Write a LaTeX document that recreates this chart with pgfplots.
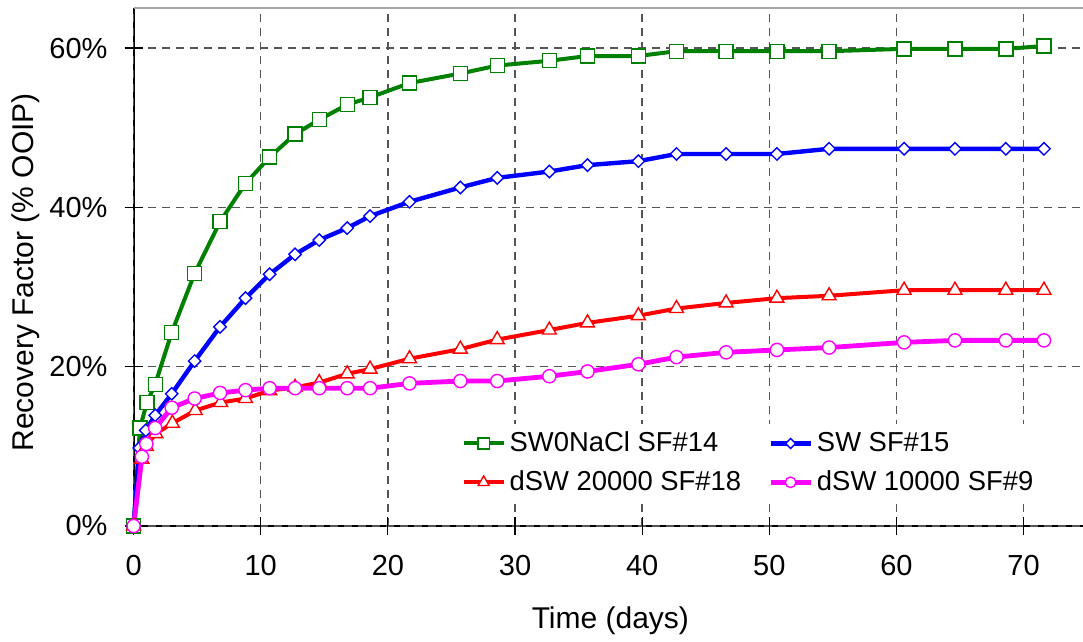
\documentclass[border=0pt]{standalone}
\usepackage{pgfplots}
\pgfplotsset{compat=1.18}
\usepackage{fontspec}
\setmainfont{Liberation Sans}
\definecolor{cgreen}{RGB}{0,128,0}
\definecolor{cblue}{RGB}{0,0,255}
\definecolor{cred}{RGB}{255,0,0}
\definecolor{cmag}{RGB}{255,0,255}
\definecolor{gridc}{RGB}{85,85,85}
\begin{document}
\begin{tikzpicture}
\draw[black, line width=1pt] (0pt,258.9pt) -- (0pt,0pt) -- (476.8pt,0pt);
\draw[gray!70, line width=1pt] (0pt,258.9pt) -- (476.8pt,258.9pt);
\begin{axis}[
  at={(0pt,0pt)}, anchor=south west,
  scale only axis, width=476.8pt, height=258.9pt,
  xmin=0, xmax=75, ymin=0, ymax=65,
  clip=false,
  axis line style={draw=none},
  xtick={0,10,...,70}, ytick={0,20,40,60},
  xtick pos=left, ytick pos=left,
  tick align=center, major tick length=9pt,
  tick style={black, line width=0.6pt},
  grid=major,
  major grid style={gridc, line width=0.7pt, dash pattern=on 4pt off 3pt},
  /pgf/number format/assume math mode=true,
  yticklabel={\pgfmathprintnumber{\tick}\%},
  tick label style={font=\fontsize{14.5}{17}\selectfont},
  xticklabel style={yshift=-6.5pt},
  yticklabel style={xshift=-5pt},
  label style={font=\fontsize{15}{18}\selectfont},
  xlabel={Time (days)},
  ylabel={Recovery Factor (\% OOIP)},
  x label style={at={(axis description cs:0.5,0)}, yshift=-47.5pt, anchor=center},
  y label style={at={(axis description cs:-0.1128,0.49)}, anchor=center},
  legend columns=2,
  legend style={at={(axis cs:25.3,12.85)}, anchor=north west, draw=none, fill=white,
    font=\fontsize{13.7}{16}\selectfont, row sep=4pt,
    /tikz/every even column/.append style={column sep=11.5pt}},
  legend cell align=left,
  legend image code/.code={
    \draw[mark repeat=2,mark phase=2,#1,/tikz/every mark/.append style={scale=0.8}]
      plot coordinates {(0pt,0pt) (10pt,0pt) (20pt,0pt)};
  },
]
\addplot[cgreen, line width=2pt, mark=square*, mark size=3.5pt,
  mark options={fill=white, draw=cgreen, line width=0.7pt, solid}] coordinates {
(0,0) (0.5,12.3) (1.05,15.5) (1.7,17.8) (3.0,24.3) (4.8,31.7) (6.8,38.2) (8.8,43.0)
(10.7,46.3) (12.7,49.2) (14.6,51.0) (16.8,52.9) (18.6,53.8) (21.7,55.6) (25.7,56.8)
(28.6,57.8) (32.7,58.4) (35.7,59.0) (39.7,59.0) (42.7,59.6) (46.6,59.6) (50.6,59.6)
(54.7,59.6) (60.6,59.9) (64.6,59.9) (68.6,59.9) (71.6,60.25)};
\addlegendentry{SW0NaCl SF\#14}
\addplot[cblue, line width=2.2pt, mark=square*, mark size=2.2pt,
  mark options={fill=white, draw=cblue, line width=0.7pt, solid, rotate=45}] coordinates {
(0,0) (0.45,9.8) (0.95,12.0) (1.7,13.9) (3.0,16.6) (4.8,20.7) (6.8,25.0) (8.8,28.6)
(10.7,31.6) (12.7,34.1) (14.6,35.9) (16.8,37.4) (18.6,38.9) (21.7,40.7) (25.7,42.5)
(28.6,43.7) (32.7,44.5) (35.7,45.3) (39.7,45.8) (42.7,46.7) (46.6,46.7) (50.6,46.7)
(54.7,47.35) (60.6,47.35) (64.6,47.35) (68.6,47.35) (71.6,47.35)};
\addlegendentry{SW SF\#15}
\addplot[cred, line width=2pt, mark=triangle*, mark size=4pt,
  mark options={fill=white, draw=cred, line width=0.7pt, solid}] coordinates {
(0,0) (0.65,8.4) (1.0,10.0) (1.75,11.6) (3.05,12.9) (4.85,14.5) (6.85,15.5) (8.8,16.0)
(10.7,17.0) (12.7,17.4) (14.6,18.0) (16.8,19.1) (18.6,19.7) (21.7,21.0) (25.7,22.2)
(28.6,23.4) (32.7,24.6) (35.7,25.5) (39.7,26.4) (42.7,27.3) (46.6,28.0) (50.6,28.6)
(54.7,28.9) (60.6,29.6) (64.6,29.6) (68.6,29.6) (71.6,29.6)};
\addlegendentry{dSW 20000 SF\#18}
\addplot[cmag, line width=2.4pt, mark=*, mark size=3.3pt,
  mark options={fill=white, draw=cmag, line width=0.7pt, solid}] coordinates {
(0,0) (0.65,8.7) (1.0,10.3) (1.7,12.3) (3.0,14.85) (4.8,16.0) (6.8,16.7) (8.8,17.05)
(10.7,17.3) (12.7,17.3) (14.6,17.3) (16.8,17.3) (18.6,17.3) (21.7,17.9) (25.7,18.2)
(28.6,18.2) (32.7,18.8) (35.7,19.4) (39.7,20.3) (42.7,21.2) (46.6,21.8) (50.6,22.1)
(54.7,22.4) (60.6,23.05) (64.6,23.3) (68.6,23.3) (71.6,23.3)};
\addlegendentry{dSW 10000 SF\#9}
\end{axis}
\pgfresetboundingbox
\path[use as bounding box] (-66.8pt,-58pt) rectangle (474.7pt,263pt);
\end{tikzpicture}
\end{document}
